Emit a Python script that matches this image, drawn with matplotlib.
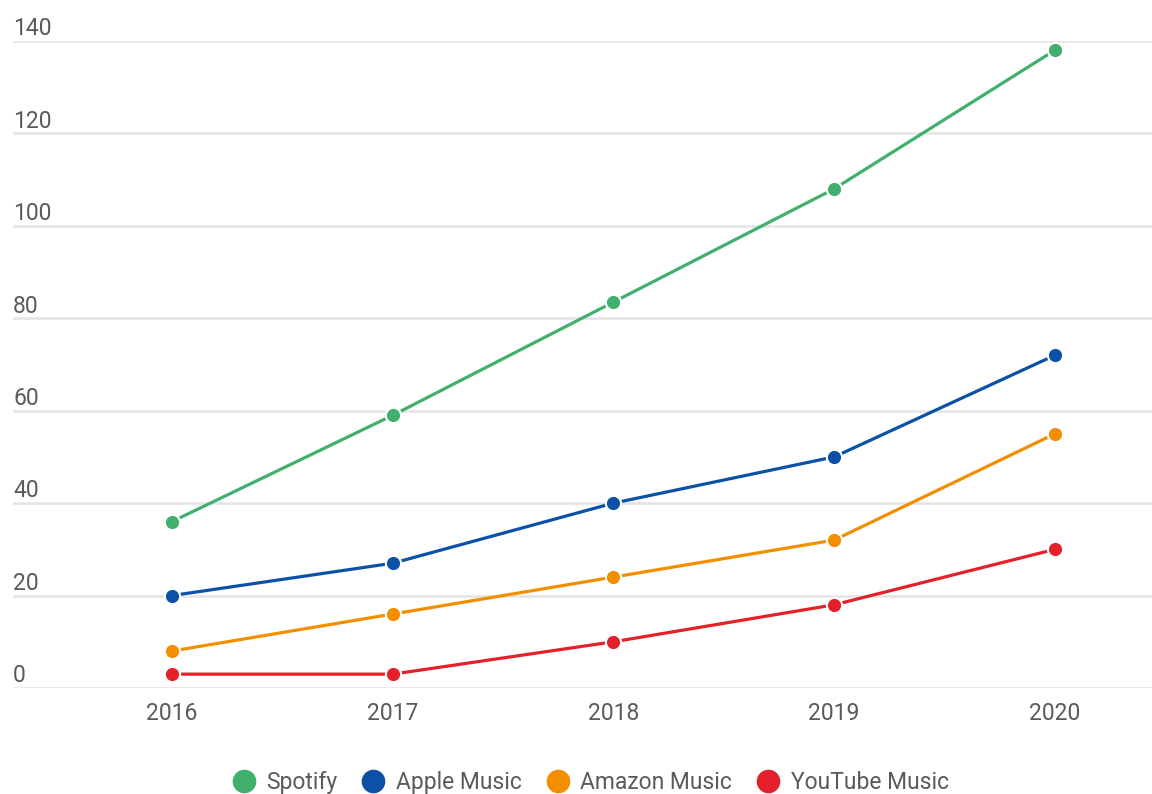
import matplotlib
matplotlib.use("Agg")
import matplotlib.pyplot as plt
from matplotlib.lines import Line2D

years = ["2016", "2017", "2018", "2019", "2020"]
series_names = ["Spotify", "Apple Music", "Amazon Music", "YouTube Music"]
spotify = [36, 59, 83.5, 108, 138]
apple_music = [20, 27, 40, 50, 72]
amazon_music = [8, 16, 24, 32, 55]
youtube_music = [3, 3, 10, 18, 30]
colors = ["#41b06c", "#0b52a6", "#f28e00", "#e4202a"]
yticks = [0, 20, 40, 60, 80, 100, 120, 140]

plt.rcParams['font.family'] = ['Roboto', 'DejaVu Sans']

fig = plt.figure(figsize=(11.52, 7.94), dpi=100)
ax = fig.add_axes([0.0113, 0.1335, 0.9887, 0.8149])

x = list(range(len(years)))
all_series = [spotify, apple_music, amazon_music, youtube_music]
for vals, c, name in zip(all_series, colors, series_names):
    ax.plot(x, vals, color=c, lw=2.3, marker='o', markersize=11,
            markerfacecolor=c, markeredgecolor='white', markeredgewidth=1.5,
            label=name, zorder=3, solid_capstyle='round')

ax.set_xlim(-0.72, 4.44)
ax.set_ylim(0, 140)
ax.set_yticks(yticks)
ax.set_xticks(x)
ax.set_xticklabels(years, fontsize=16.5, color='#5a5a5a')
ax.tick_params(axis='x', length=0, pad=10)
ax.tick_params(axis='y', length=0, labelleft=False)
ax.grid(axis='y', color='#e4e4e4', lw=1.8, zorder=0)
ax.set_axisbelow(True)
for s in ax.spines.values():
    s.set_visible(False)

trans = ax.get_yaxis_transform()
for v in yticks:
    ax.annotate(str(v), xy=(0, v), xycoords=trans, xytext=(0, 0.5),
                textcoords='offset points', ha='left', va='bottom',
                fontsize=16.5, color='#5a5a5a', annotation_clip=False)

handles = [Line2D([], [], linestyle='none', marker='o', markersize=16,
                  markerfacecolor=c, markeredgecolor=c) for c in colors]
fig.legend(handles, series_names, loc='lower center', ncol=4, frameon=False,
           bbox_to_anchor=(0.513, -0.026), fontsize=16.5, labelcolor='#5a5a5a',
           handlelength=0.9, handletextpad=0.55, columnspacing=1.1)

fig.savefig("out.png", dpi=100)
